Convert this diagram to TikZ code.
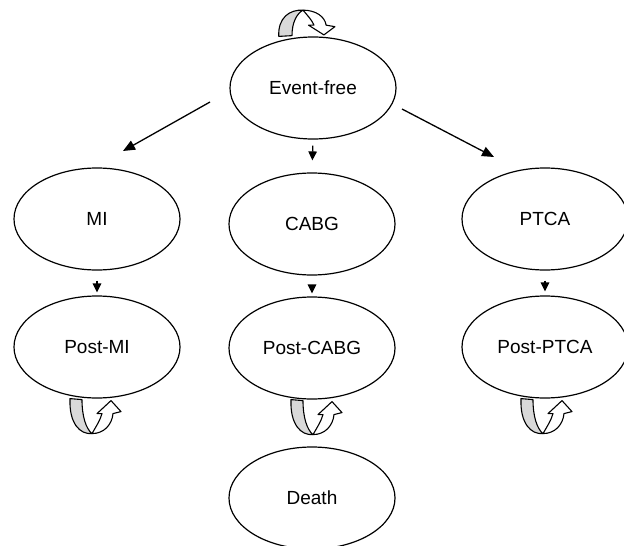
\documentclass[tikz,border=0pt]{standalone}
\usepackage{fontspec}
\setmainfont{Liberation Sans}
\usetikzlibrary{shapes.geometric,arrows.meta}
\tikzset{
  state/.style={draw, ellipse, line width=1.2pt, minimum width=166pt, minimum height=102pt, inner sep=0pt, font=\fontsize{19}{22}\selectfont},
  arr/.style={line width=1.3pt, -{Triangle[length=12pt,width=10pt]}},
  varr/.style={line width=1.3pt, -{Triangle[length=9pt,width=8.5pt]}},
  ribbonloop/.pic={
    \filldraw[fill=gray!30, line width=1.1pt, line join=round]
      (-22,0) .. controls (-23,25) and (-12,36) .. (0,35)
      .. controls (-6,30) and (-10,18) .. (-10,1) -- cycle;
    \filldraw[fill=white, line width=1.1pt, line join=round]
      (0,35) .. controls (4,28) and (8,22) .. (10,15) -- (5,15) -- (19,2)
      -- (29,13) -- (21,15) .. controls (20,26) and (12,35) .. (0,35) -- cycle;
  }
}
\begin{document}
\begin{tikzpicture}[x=1pt,y=-1pt]
\useasboundingbox (0,0) rectangle (624,546);
\clip (0,0) rectangle (624,546);
\fill[white] (0,0) rectangle (624,546);
\node[state] (ef) at (313,88) {Event-free};
\node[state] (mi) at (97,219) {MI};
\node[state] (cabg) at (312,224) {CABG};
\node[state] (ptca) at (545,219) {PTCA};
\node[state] (postmi) at (97,347) {Post-MI};
\node[state] (postcabg) at (312,348) {Post-CABG};
\node[state] (postptca) at (545,347) {Post-PTCA};
\node[state] (death) at (312,498) {Death};
\coordinate (l1) at (210,102);
\coordinate (l2) at (123,151);
\coordinate (r1) at (402,109);
\coordinate (r2) at (494,157);
\draw[arr] (l1) -- (l2);
\draw[arr] (r1) -- (r2);
\draw[varr, shorten <=6pt, shorten >=12pt] (ef.south) -- (cabg.north);
\draw[varr, shorten <=10pt, shorten >=3pt] (mi.south) -- (postmi.north);
\draw[varr, shorten <=9pt, shorten >=3pt] (cabg.south) -- (postcabg.north);
\draw[varr, shorten <=10pt, shorten >=4pt] (ptca.south) -- (postptca.north);
\pic at ([xshift=-5pt]postmi.south) {ribbonloop};
\pic at ([xshift=1pt]postcabg.south) {ribbonloop};
\pic at ([xshift=-2pt]postptca.south) {ribbonloop};
\pic[xscale=1.1, yscale=-0.75] at ([xshift=-10pt]ef.north) {ribbonloop};
\end{tikzpicture}
\end{document}
